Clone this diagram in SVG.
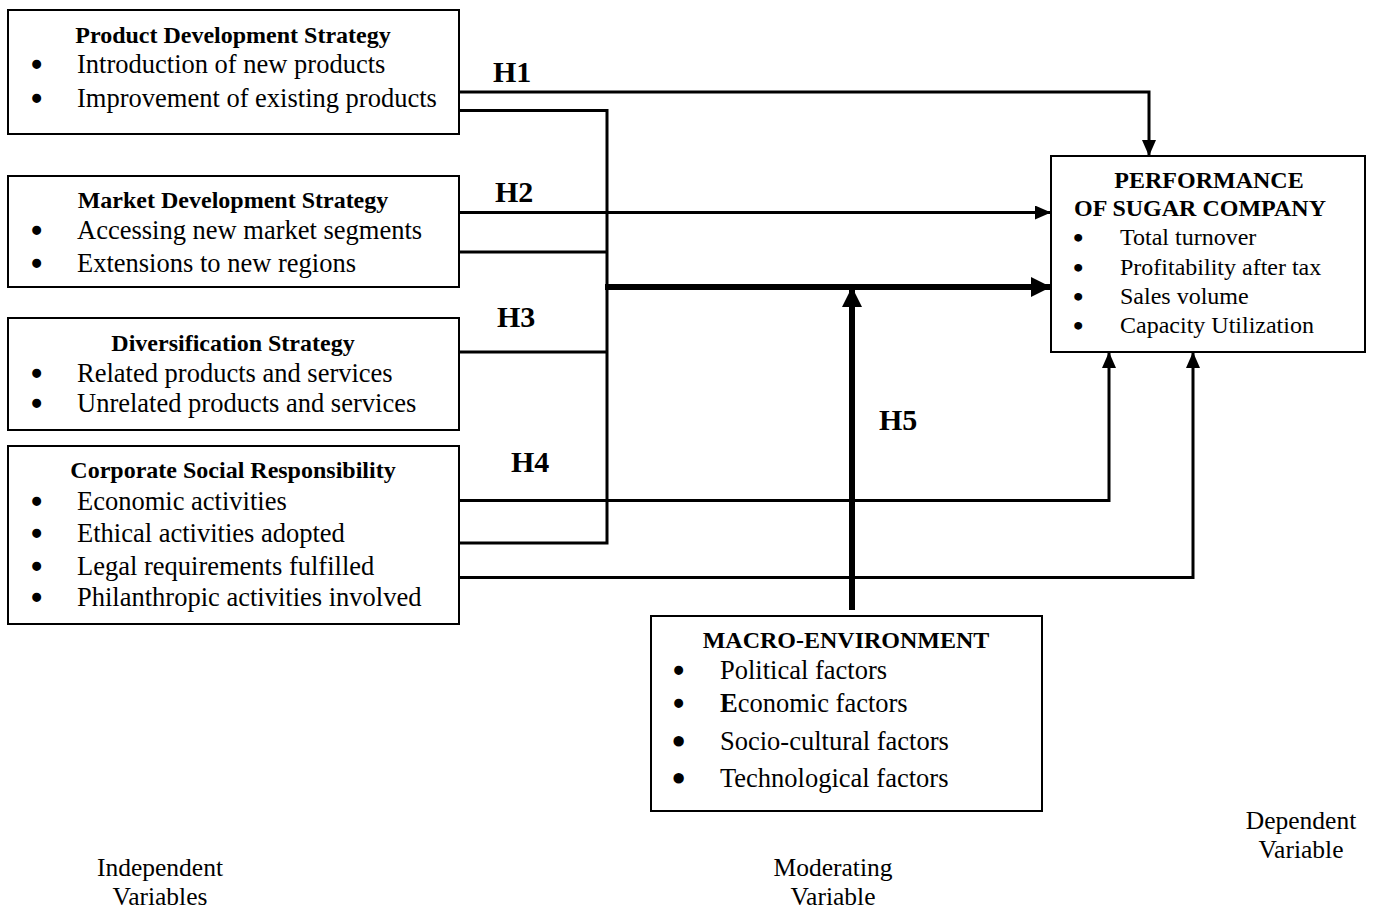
<svg xmlns="http://www.w3.org/2000/svg" width="1376" height="910" viewBox="0 0 1376 910">
<style>
.box{fill:#fff;stroke:#000;stroke-width:2}
.t{font-family:"Liberation Serif","Times New Roman",serif;fill:#000}
.ttl{font-family:"Liberation Serif","Times New Roman",serif;font-weight:bold;font-size:24px;fill:#000;text-anchor:middle}
.it{font-size:26.5px}
.pi{font-size:24px}
.bu{stroke:#000;stroke-width:2.6px}
.bp{stroke:#000;stroke-width:2.2px}
.bl{stroke:#000;stroke-width:4px}
.h{font-family:"Liberation Serif","Times New Roman",serif;font-weight:bold;font-size:30px;fill:#000}
.ln{fill:none;stroke:#000;stroke-width:3}
.thk{fill:none;stroke:#000;stroke-width:6}
.lab{font-family:"Liberation Serif","Times New Roman",serif;font-size:25.5px;fill:#000;text-anchor:middle}
</style>
<defs>
<marker id="ar" markerUnits="userSpaceOnUse" viewBox="0 0 16 14" refX="16" refY="7" markerWidth="16" markerHeight="14" orient="auto">
<path d="M0,0 L16,7 L0,14 Z" fill="#000"/>
</marker>
<marker id="arB" markerUnits="userSpaceOnUse" viewBox="0 0 20 20" refX="20" refY="10" markerWidth="20" markerHeight="20" orient="auto">
<path d="M0,0 L20,10 L0,20 Z" fill="#000"/>
</marker>
</defs>

<g id="node-product">
<rect class="box" x="8" y="10" width="451" height="124"/>
<text class="ttl" x="233" y="43">Product Development Strategy</text>
<text class="t it"><tspan class="bu" x="32" y="74">•</tspan><tspan x="77" y="73">Introduction of new products</tspan></text>
<text class="t it"><tspan class="bu" x="32" y="108">•</tspan><tspan x="77" y="107">Improvement of existing products</tspan></text>
</g>

<g id="node-market">
<rect class="box" x="8" y="176" width="451" height="111"/>
<text class="ttl" x="233" y="208">Market Development Strategy</text>
<text class="t it"><tspan class="bu" x="32" y="240">•</tspan><tspan x="77" y="239">Accessing new market segments</tspan></text>
<text class="t it"><tspan class="bu" x="32" y="273">•</tspan><tspan x="77" y="272">Extensions to new regions</tspan></text>
</g>

<g id="node-diversification">
<rect class="box" x="8" y="318" width="451" height="112"/>
<text class="ttl" x="233" y="351">Diversification Strategy</text>
<text class="t it"><tspan class="bu" x="32" y="383">•</tspan><tspan x="77" y="382">Related products and services</tspan></text>
<text class="t it"><tspan class="bu" x="32" y="413">•</tspan><tspan x="77" y="412">Unrelated products and services</tspan></text>
</g>

<g id="node-csr">
<rect class="box" x="8" y="446" width="451" height="178"/>
<text class="ttl" x="233" y="478">Corporate Social Responsibility</text>
<text class="t it"><tspan class="bu" x="32" y="511">•</tspan><tspan x="77" y="510">Economic activities</tspan></text>
<text class="t it"><tspan class="bu" x="32" y="543">•</tspan><tspan x="77" y="542">Ethical activities adopted</tspan></text>
<text class="t it"><tspan class="bu" x="32" y="576">•</tspan><tspan x="77" y="575">Legal requirements fulfilled</tspan></text>
<text class="t it"><tspan class="bu" x="32" y="607">•</tspan><tspan x="77" y="606">Philanthropic activities involved</tspan></text>
</g>

<g id="node-performance">
<rect class="box" x="1051" y="156" width="314" height="196"/>
<text class="ttl" x="1209" y="188">PERFORMANCE</text>
<text class="ttl" x="1200" y="216">OF SUGAR COMPANY</text>
<text class="t pi"><tspan class="bp" x="1074" y="246">•</tspan><tspan x="1120" y="245">Total turnover</tspan></text>
<text class="t pi"><tspan class="bp" x="1074" y="276">•</tspan><tspan x="1120" y="275">Profitability after tax</tspan></text>
<text class="t pi"><tspan class="bp" x="1074" y="305">•</tspan><tspan x="1120" y="304">Sales volume</tspan></text>
<text class="t pi"><tspan class="bp" x="1074" y="334">•</tspan><tspan x="1120" y="333">Capacity Utilization</tspan></text>
</g>

<g id="node-macro">
<rect class="box" x="651" y="616" width="391" height="195"/>
<text class="ttl" x="846" y="648">MACRO-ENVIRONMENT</text>
<text class="t it"><tspan class="bu" x="674" y="680">•</tspan><tspan x="720" y="679">Political factors</tspan></text>
<text class="t it"><tspan class="bu" x="674" y="713">•</tspan><tspan x="720" y="712" font-weight="bold">E</tspan><tspan>conomic factors</tspan></text>
<text class="t it"><tspan class="bl" x="674" y="751">•</tspan><tspan x="720" y="750">Socio-cultural factors</tspan></text>
<text class="t it"><tspan class="bl" x="674" y="788">•</tspan><tspan x="720" y="787">Technological factors</tspan></text>
</g>

<g id="connectors">
<polyline class="ln" points="459,92 1149,92 1149,156" marker-end="url(#ar)"/>
<polyline class="ln" points="459,110.5 607,110.5 607,543 459,543"/>
<line class="ln" x1="459" y1="212.5" x2="1051" y2="212.5" marker-end="url(#ar)"/>
<line class="ln" x1="459" y1="252" x2="607" y2="252"/>
<line class="thk" x1="605" y1="287" x2="1051" y2="287" marker-end="url(#arB)"/>
<line class="ln" x1="459" y1="352" x2="607" y2="352"/>
<polyline class="ln" points="459,500.5 1109,500.5 1109,352" marker-end="url(#ar)"/>
<polyline class="ln" points="459,577.5 1193,577.5 1193,352" marker-end="url(#ar)"/>
<line class="thk" x1="852" y1="610" x2="852" y2="287" stroke-width="7" marker-end="url(#arB)"/>
</g>

<g id="labels">
<text class="h" x="493" y="82">H1</text>
<text class="h" x="495" y="202">H2</text>
<text class="h" x="497" y="327">H3</text>
<text class="h" x="511" y="472">H4</text>
<text class="h" x="879" y="430">H5</text>
<text class="lab" x="160" y="876">Independent</text>
<text class="lab" x="160" y="905">Variables</text>
<text class="lab" x="833" y="876">Moderating</text>
<text class="lab" x="833" y="905">Variable</text>
<text class="lab" x="1301" y="829">Dependent</text>
<text class="lab" x="1301" y="858">Variable</text>
</g>
</svg>
